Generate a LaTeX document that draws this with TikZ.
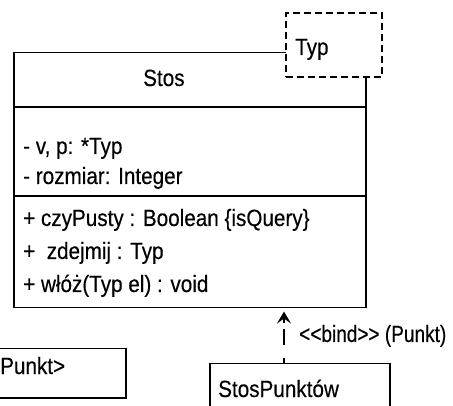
\documentclass[tikz,border=0pt]{standalone}
\usepackage{fontspec}
\setmainfont{Liberation Sans}[Ligatures=TeXOff, FakeStretch=0.88, FakeBold=0.3]
\newfontfamily\narrowlabel{Liberation Sans}[Ligatures=TeXOff, FakeStretch=0.81, FakeBold=0.3]
\usetikzlibrary{arrows.meta}
\begin{document}
\begin{tikzpicture}[x=1pt,y=-1pt,
  txt/.style={inner sep=0pt, anchor=base west, font=\fontsize{23.5}{28}\selectfont},
  classbox/.style={draw, line width=1.5pt, inner sep=0pt, anchor=north west},
  parambox/.style={draw, line width=2pt, dash pattern=on 7pt off 4pt, fill=white, inner sep=0pt, anchor=north west},
  bindline/.style={line width=2.6pt, dash pattern=on 16pt off 13pt, dash phase=11pt},
  bindhead/.style={line width=2.6pt, solid, -{Stealth[length=12pt,width=14pt,inset=5pt]}}]
\useasboundingbox (0,0) rectangle (453,406);
\clip (0,0) rectangle (453,406);

% template class Stos
\node[classbox, minimum width=352pt, minimum height=255pt] (stos) at (13,52) {};
\draw[line width=1.5pt] (13,107) -- (365,107);
\draw[line width=1.5pt] (13,196) -- (365,196);
\node[txt] (stosname) at (143,86) {Stos};
\node[txt] (a1) at (23,154) {- v, p: *Typ};
\node[txt] (a2) at (23,184) {- rozmiar: Integer};
\node[txt] (m1) at (23,226) {+ czyPusty : Boolean \{isQuery\}};
\node[txt] (m2) at (23,259) {+\ \ zdejmij : Typ};
\node[txt] (m3) at (23,292) {+ włóż(Typ el) : void};

% template parameter
\node[parambox, minimum width=96pt, minimum height=64pt] (typ) at (285,12) {};
\node[txt] (typname) at (295,55) {Typ};

% bound classes
\node[classbox, minimum width=160pt, minimum height=49pt] (stospunkt) at (-35,348) {};
\node[txt] (stospunktname) at (0,374) {Punkt>};
\node[classbox, minimum width=180pt, minimum height=80pt] (sp) at (209,363) {};
\node[txt] (spname) at (218,397) {StosPunktów};

% binding dependency: dashed shaft, solid head just below the class box
\coordinate (bindtop) at (284,363);
\coordinate (headbase) at (284,323);
\draw[bindline] (bindtop) -- (headbase);
\draw[bindhead] (headbase) -- ([yshift=-3pt]bindtop |- stos.south);
\node[txt, font=\fontsize{23.5}{28}\narrowlabel] (bindlabel) at (299,342) {<<bind>> (Punkt)};
\end{tikzpicture}
\end{document}
